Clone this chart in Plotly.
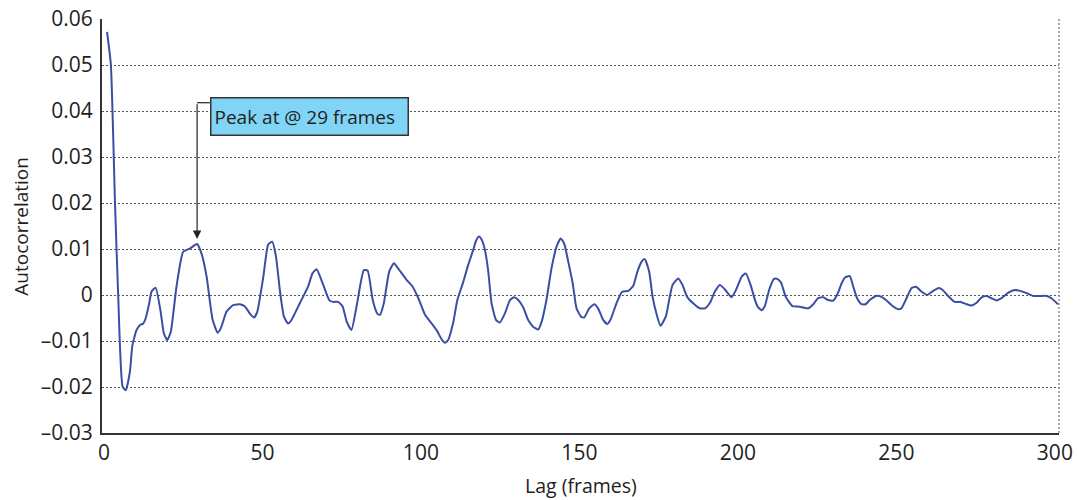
import plotly.graph_objects as go

lags = [1.0, 2.2, 3.5, 4.5, 5.9, 6.9, 8.2, 9.0, 10.3, 11.4, 12.4, 13.2, 14.3, 15.0, 16.3, 17.9, 18.9, 20.0,
        21.1, 22.9, 25.0, 27.1, 29.4, 30.8, 32.4, 34.3, 35.9, 36.9, 38.7, 40.8, 42.9, 44.5, 46.1, 47.4,
        48.4, 50.3, 51.8, 53.1, 54.3, 55.5, 56.8, 58.1, 59.2, 61.8, 64.4, 65.8, 67.1, 69.2, 71.1, 72.3,
        73.9, 75.3, 76.6, 78.1, 79.7, 82.0, 83.2, 84.8, 86.3, 87.1, 88.3, 90.0, 91.5, 92.8, 95.5, 97.4,
        99.2, 101.3, 103.4, 105.1, 106.5, 107.6, 108.6, 110.2, 111.5, 113.4, 114.9, 116.5, 117.4, 118.3,
        119.1, 120.2, 121.2, 122.3, 123.7, 124.9, 126.5, 128.1, 129.4, 130.7, 132.3, 133.8, 135.4, 137.0,
        138.1, 139.6, 141.2, 142.8, 144.1, 145.2, 146.5, 147.9, 149.1, 150.5, 151.5, 153.1, 154.7, 155.9,
        157.5, 158.8, 159.8, 161.7, 163.5, 165.4, 167.0, 168.3, 169.6, 170.6, 172.0, 173.1, 174.4, 175.6,
        177.3, 178.5, 179.4, 181.2, 182.5, 184.0, 185.9, 188.0, 189.6, 191.2, 192.7, 194.3, 195.9, 198.0,
        199.4, 201.2, 202.5, 204.0, 205.4, 206.4, 207.5, 208.5, 209.9, 211.4, 212.4, 213.6, 215.1, 217.2,
        219.0, 220.6, 222.2, 223.8, 225.3, 226.9, 228.5, 230.1, 231.6, 232.7, 233.8, 235.3, 236.4, 237.6,
        239.0, 240.3, 241.6, 243.7, 245.3, 246.9, 248.8, 250.6, 251.6, 253.2, 254.8, 256.2, 258.0, 259.7,
        261.6, 263.4, 264.6, 266.3, 268.4, 270.3, 272.1, 273.7, 275.3, 276.9, 278.5, 280.0, 281.6, 283.2,
        285.3, 287.4, 289.0, 291.1, 293.2, 295.3, 297.4, 298.9, 301.0]

autocorr = [0.0572, 0.050, 0.020, 0.0, -0.0199, -0.0207, -0.0167, -0.0109, -0.0076, -0.0065, -0.0062,
            -0.005, -0.0018, 0.0007, 0.0016, -0.0036, -0.0083, -0.0098, -0.008, 0.0018, 0.0094, 0.0101,
            0.0111, 0.009, 0.004, -0.0054, -0.0082, -0.0072, -0.0036, -0.0022, -0.002, -0.0025, -0.0041,
            -0.0049, -0.0036, 0.004, 0.0109, 0.0116, 0.0083, 0.0011, -0.0047, -0.0062, -0.0054, -0.0018,
            0.0018, 0.0047, 0.0056, 0.0022, -0.0011, -0.0015, -0.0015, -0.0025, -0.0058, -0.0076, -0.0025,
            0.0054, 0.0053, -0.0011, -0.0041, -0.0043, -0.0018, 0.0051, 0.0069, 0.0058, 0.0033, 0.0018,
            -0.0007, -0.0043, -0.0062, -0.0078, -0.0096, -0.0104, -0.0098, -0.006, -0.0011, 0.0029, 0.0065,
            0.0098, 0.0118, 0.0127, 0.0121, 0.0098, 0.0054, -0.0018, -0.0054, -0.006, -0.004, -0.0011,
            -0.0005, -0.0011, -0.0027, -0.0054, -0.0069, -0.0075, -0.0058, -0.0011, 0.0058, 0.0105, 0.0123,
            0.0112, 0.0072, 0.0025, -0.0029, -0.0047, -0.0049, -0.0029, -0.002, -0.0029, -0.0054, -0.0063,
            -0.0054, -0.0018, 0.0007, 0.0009, 0.002, 0.0051, 0.0072, 0.0078, 0.0051, -0.0004, -0.0043,
            -0.0067, -0.0046, -0.0004, 0.0022, 0.0036, 0.0022, -0.0004, -0.0018, -0.0029, -0.0029, -0.0017,
            0.0007, 0.0022, 0.0012, -0.0005, 0.0011, 0.004, 0.0047, 0.0022, -0.0011, -0.0027, -0.0033,
            -0.0024, 0.0012, 0.0035, 0.0035, 0.0027, -0.0004, -0.0024, -0.0025, -0.0027, -0.0029, -0.002,
            -0.0007, -0.0005, -0.0011, -0.0012, 0.0005, 0.0025, 0.0038, 0.0041, 0.0018, -0.0007, -0.002,
            -0.002, -0.0011, -0.0002, -0.0004, -0.0012, -0.0024, -0.0031, -0.0029, -0.0007, 0.0015, 0.0018,
            0.0007, 0.0, 0.0009, 0.0015, 0.0011, -0.0002, -0.0015, -0.0015, -0.002, -0.0023, -0.0017,
            -0.0005, -0.0002, -0.0007, -0.0012, -0.0007, 0.0005, 0.0011, 0.0009, 0.0004, -0.0002, -0.0002,
            -0.0002, -0.0007, -0.002]

y_ticks = [-0.03, -0.02, -0.01, 0, 0.01, 0.02, 0.03, 0.04, 0.05, 0.06]
y_tick_labels = ["\u20130.03", "\u20130.02", "\u20130.01", "0", "0.01", "0.02", "0.03", "0.04", "0.05", "0.06"]
x_ticks = [0, 50, 100, 150, 200, 250, 300]
x_tick_labels = ["0", "50", "100", "150", "200", "250", "300"]

x_title = "Lag (frames)"
y_title = "Autocorrelation"
peak_lag = 29.4
peak_label = "Peak at @ 29 frames"

FONT = "Open Sans"
TXT = "#231f20"
GRID = "#555555"

fig = go.Figure()
fig.add_trace(go.Scatter(x=lags, y=autocorr, mode="lines",
                         line=dict(color="#3a4ea3", width=2, shape="spline", smoothing=0.5),
                         showlegend=False, hoverinfo="skip"))

fig.update_layout(
    width=1078, height=500,
    margin=dict(l=102, r=19, t=19, b=67, autoexpand=False),
    paper_bgcolor="white", plot_bgcolor="white",
    font=dict(family=FONT, color=TXT, size=21),
    xaxis=dict(range=[-0.6, 301.3], tickvals=x_ticks, ticktext=x_tick_labels, automargin=False,
               showgrid=False, zeroline=False, showline=True, linecolor="#333333", linewidth=2,
               ticks="", ticklabelstandoff=0, tickfont=dict(size=21, family=FONT, color=TXT)),
    yaxis=dict(range=[-0.03, 0.06], tickvals=y_ticks, ticktext=y_tick_labels, automargin=False,
               showgrid=True, gridcolor=GRID, gridwidth=1, griddash="2px,2px",
               zeroline=False, showline=True, linecolor="#333333", linewidth=2,
               ticks="", ticklabelstandoff=3, tickfont=dict(size=21, family=FONT, color=TXT)),
)

# axis titles
fig.add_annotation(xref="paper", yref="paper", x=0.5, y=-0.128, yanchor="middle", text=x_title,
                   showarrow=False, font=dict(size=19.5, family=FONT, color=TXT))
fig.add_annotation(xref="paper", yref="paper", x=-0.085, y=0.5, xanchor="center", yanchor="middle",
                   text=y_title, textangle=-90, showarrow=False,
                   font=dict(size=19, family=FONT, color=TXT))

# right dotted border
fig.add_shape(type="line", xref="paper", yref="paper", x0=1, x1=1, y0=0, y1=1,
              line=dict(color=GRID, width=1, dash="2px,2px"))

# elbow connector from label box to arrow
box_left = 33.4
elbow_y = 0.0418
fig.add_shape(type="line", xref="x", yref="y", x0=peak_lag, x1=box_left, y0=elbow_y, y1=elbow_y,
              line=dict(color="#222222", width=1.2))
fig.add_annotation(x=peak_lag, y=0.0122, ax=peak_lag, ay=elbow_y, xref="x", yref="y",
                   axref="x", ayref="y", text="", showarrow=True, arrowhead=2, arrowsize=1.4,
                   arrowwidth=1.2, arrowcolor="#222222")
fig.add_annotation(x=box_left, y=0.0389, xref="x", yref="y", xanchor="left", yanchor="middle",
                   text=peak_label, showarrow=False, align="left",
                   font=dict(size=19, family=FONT, color=TXT),
                   bgcolor="#80d4f6", bordercolor="#333333", borderwidth=1.5, borderpad=3,
                   width=190, height=30)

fig.write_html("out.html", config={"displayModeBar": False},
               post_script="document.body.style.margin='0';document.body.style.overflow='hidden';")
